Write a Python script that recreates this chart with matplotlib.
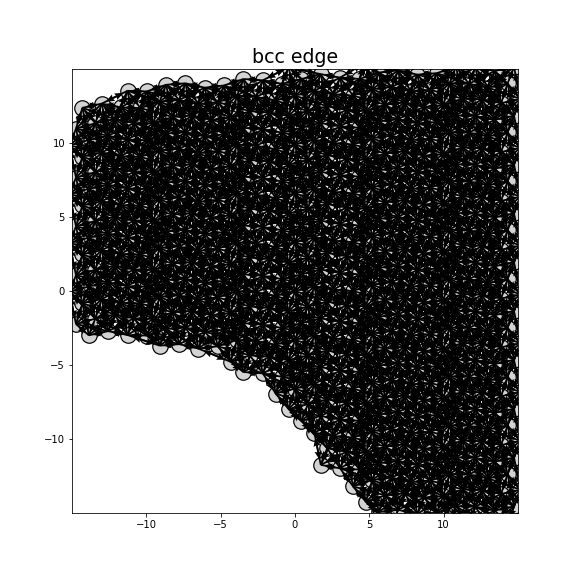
import numpy as np
import matplotlib
matplotlib.use("Agg")
import matplotlib.pyplot as plt

title = "bcc edge"
xlim = [-15, 15]
ylim = [-15, 15]
# lattice spacing
a_x = 1.3
a_y = 1.1
# boundary of atom region
lower_x = [-16, -14, -10, -8, -4, -2, 0, 1.5, 3.8, 5.5, 16]
lower_y = [-3.3, -3.3, -4.0, -4.0, -5.4, -7.0, -9.0, -11.8, -13.8, -16, -16]
upper_x = [-16, -15, -10, -5, -3, 16]
upper_y = [12.6, 12.8, 13.8, 14.7, 15.2, 16]

ii, jj = np.meshgrid(np.arange(-14, 15), np.arange(-16, 17))
px = ii * a_x + (jj % 3) * a_x / 3
py = jj * a_y + 0.06 * px + 0.25 * np.sin(ii * 1.7)
lo = np.interp(px, lower_x, lower_y)
hi = np.interp(px, upper_x, upper_y)
m = (py > lo) & (py < hi) & (px > -15.5) & (px < 15.5)
px, py = px[m], py[m]

fig = plt.figure(figsize=(8, 8), dpi=72)
ax = fig.add_axes([72/576, 63/576, 446/576, 444/576])
ax.scatter(px, py, s=240, facecolor="#d3d3d3", edgecolor="black", linewidth=1.2, zorder=1)

# arrows between neighbours
pts = np.column_stack([px, py])
d = pts[None, :, :] - pts[:, None, :]
r = np.hypot(d[..., 0], d[..., 1])
i1, i2 = np.where((r > 0.1) & (r < 2.6))
vx = d[i1, i2, 0] * 0.85
vy = d[i1, i2, 1] * 0.85
ax.quiver(px[i1], py[i1], vx, vy, angles="xy", scale_units="xy", scale=1,
          color="black", width=0.004, headwidth=4, headlength=5, zorder=2)

ax.set_xlim(xlim)
ax.set_ylim(ylim)
ax.set_xticks([-10, -5, 0, 5, 10])
ax.set_yticks([-10, -5, 0, 5, 10])
ax.set_title(title, fontsize=19)
fig.savefig("out.png", dpi=72)
